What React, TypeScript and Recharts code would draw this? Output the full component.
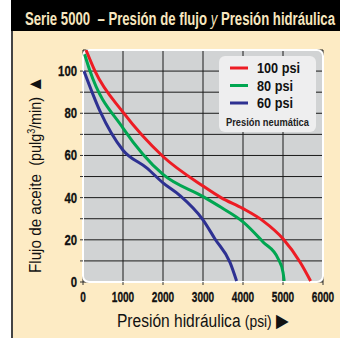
import React from 'react';
import { LineChart, Line, XAxis, YAxis, CartesianGrid, ReferenceArea, Legend } from 'recharts';

const FONT = '"Liberation Sans", Arial, sans-serif';
const BEIGE = '#FDEBC4';
const RED = '#ED1C24';
const GREEN = '#00A651';
const BLUE = '#2E3192';

const xTicks = [0, 1000, 2000, 3000, 4000, 5000, 6000];
const yTicks = [0, 10, 20, 30, 40, 50, 60, 70, 80, 90, 100];

const series100 = [
  { p: 75, f: 110 }, { p: 300, f: 100 }, { p: 1000, f: 80.5 }, { p: 2000, f: 59.5 },
  { p: 3000, f: 45.5 }, { p: 3450, f: 40 }, { p: 4000, f: 34.8 }, { p: 4500, f: 29 },
  { p: 5000, f: 20.5 }, { p: 5425, f: 9.5 }, { p: 5690, f: 0.5 },
];
const series80 = [
  { p: 40, f: 108 }, { p: 175, f: 100 }, { p: 1000, f: 73 }, { p: 2000, f: 51 },
  { p: 3000, f: 40.5 }, { p: 3450, f: 35.4 }, { p: 4000, f: 28.5 }, { p: 4500, f: 19 },
  { p: 4880, f: 11 }, { p: 5000, f: 4.6 }, { p: 5030, f: 0.5 },
];
const series60 = [
  { p: 25, f: 100 }, { p: 425, f: 81 }, { p: 1000, f: 62.5 }, { p: 1600, f: 54 },
  { p: 2000, f: 47 }, { p: 2425, f: 41 }, { p: 3000, f: 29.5 }, { p: 3300, f: 20.4 },
  { p: 3675, f: 9.3 }, { p: 3840, f: 0.5 },
];

const legendItems = [
  { name: '100 psi', color: RED, w: 43 },
  { name: '80 psi', color: GREEN, w: 36 },
  { name: '60 psi', color: BLUE, w: 36 },
];

const renderLegend = () => (
  <svg width={97} height={76} style={{ display: 'block' }}>
    <rect x={0} y={0} width={97} height={76} rx={6} fill="#EEEEEF" />
    {legendItems.map((it, i) => (
      <g key={it.name}>
        <rect x={11} y={10.5 + i * 17.5} width={18} height={3} fill={it.color} />
        <text x={38} y={17 + i * 17.5} fontFamily={FONT} fontWeight={700} fontSize={15} fill="#111" textLength={it.w} lengthAdjust="spacingAndGlyphs">{it.name}</text>
      </g>
    ))}
    <text x={7} y={70} fontFamily={FONT} fontWeight={700} fontSize={11} fill="#222" textLength={83} lengthAdjust="spacingAndGlyphs">Presión neumática</text>
  </svg>
);

const XTick = (props: any) => {
  const { x, y, payload } = props;
  const s = String(payload.value);
  return (
    <text x={x} y={y + 15} textAnchor="middle" fontFamily={FONT} fontWeight={700} fontSize={14} fill="#111" stroke="#111" strokeWidth={0.3} textLength={s.length * 5.6} lengthAdjust="spacingAndGlyphs">{s}</text>
  );
};

const YTick = (props: any) => {
  const { x, y, payload } = props;
  const v = payload.value as number;
  if (v % 20 !== 0) return <g />;
  const s = String(v);
  return (
    <text x={x} y={y + 5} textAnchor="end" fontFamily={FONT} fontWeight={700} fontSize={14} fill="#111" stroke="#111" strokeWidth={0.3} textLength={s.length * 6.3} lengthAdjust="spacingAndGlyphs">{s}</text>
  );
};

export default function App() {
  return (
    <div style={{ position: 'absolute', left: 0, top: 0, width: 340, height: 338, background: '#fff', overflow: 'hidden' }}>
      <div style={{ position: 'absolute', left: 11, top: 0, width: 329, height: 338, background: BEIGE }} />
      <div style={{ position: 'absolute', left: 11, top: 31, width: 2, height: 307, background: '#444' }} />
      <div style={{ position: 'absolute', left: 11, top: 0, width: 329, height: 31, background: '#000' }} />
      <svg width={340} height={338} style={{ position: 'absolute', left: 0, top: 0 }}>
        <text x={25} y={25} fontFamily={FONT} fontWeight={700} fontSize={18} fill="#F7E6BF" textLength={310} lengthAdjust="spacingAndGlyphs">
          {'Serie 5000\u00A0\u00A0– Presión de flujo '}<tspan fontStyle="italic" fontWeight={400}>y</tspan>{' Presión hidráulica'}
        </text>
      </svg>
      <div style={{ position: 'absolute', left: 0, top: 0 }}>
        <LineChart width={340} height={338} margin={{ top: 50, right: 17, bottom: 26, left: 23 }}>
          <CartesianGrid fill="#D1D3D4" stroke="#1a1a1a" strokeWidth={1} />
          <XAxis
            type="number"
            dataKey="p"
            domain={[0, 6000]}
            ticks={xTicks}
            allowDataOverflow
            height={30}
            axisLine={false}
            tickSize={3}
            tickMargin={2}
            tickLine={{ stroke: '#333' }}
            tick={<XTick />}
            interval={0}
          />
          <YAxis
            type="number"
            dataKey="f"
            domain={[0, 110]}
            ticks={yTicks}
            allowDataOverflow
            width={60}
            axisLine={false}
            tickSize={3}
            tickMargin={3}
            tickLine={{ stroke: '#333' }}
            tick={<YTick />}
            interval={0}
          />
          <ReferenceArea x1={0} x2={6000} y1={0} y2={110} fill="none" stroke="#fff" strokeWidth={2} radius={6} ifOverflow="visible" />
          <Line data={series100} dataKey="f" type="monotone" stroke={RED} strokeWidth={3} dot={false} isAnimationActive={false} />
          <Line data={series80} dataKey="f" type="monotone" stroke={GREEN} strokeWidth={3} dot={false} isAnimationActive={false} />
          <Line data={series60} dataKey="f" type="monotone" stroke={BLUE} strokeWidth={3} dot={false} isAnimationActive={false} />
          <Legend content={renderLegend} layout="horizontal" verticalAlign="middle" align="center" wrapperStyle={{ left: 219, top: 56, width: 97, height: 76 }} />
        </LineChart>
      </div>
      <svg width={340} height={338} style={{ position: 'absolute', left: 0, top: 0, pointerEvents: 'none' }}>
        <text transform="translate(41,273) rotate(-90)" fontFamily={FONT} fontSize={17} fill="#111" textLength={197} lengthAdjust="spacingAndGlyphs">
          {'Flujo de aceite\u00A0\u00A0'}<tspan fontSize={16}>(pulg</tspan><tspan fontSize={10} dy={-6}>3</tspan><tspan fontSize={16} dy={6}>/min)</tspan>{'\u00A0'}<tspan fontSize={19}>▲</tspan>
        </text>
        <text x={117} y={327} fontFamily={FONT} fontSize={18} fill="#111" textLength={172} lengthAdjust="spacingAndGlyphs">
          {'Presión hidráulica '}<tspan fontSize={16}>(psi)</tspan>{'\u00A0'}<tspan fontSize={19}>▶</tspan>
        </text>
      </svg>
    </div>
  );
}
